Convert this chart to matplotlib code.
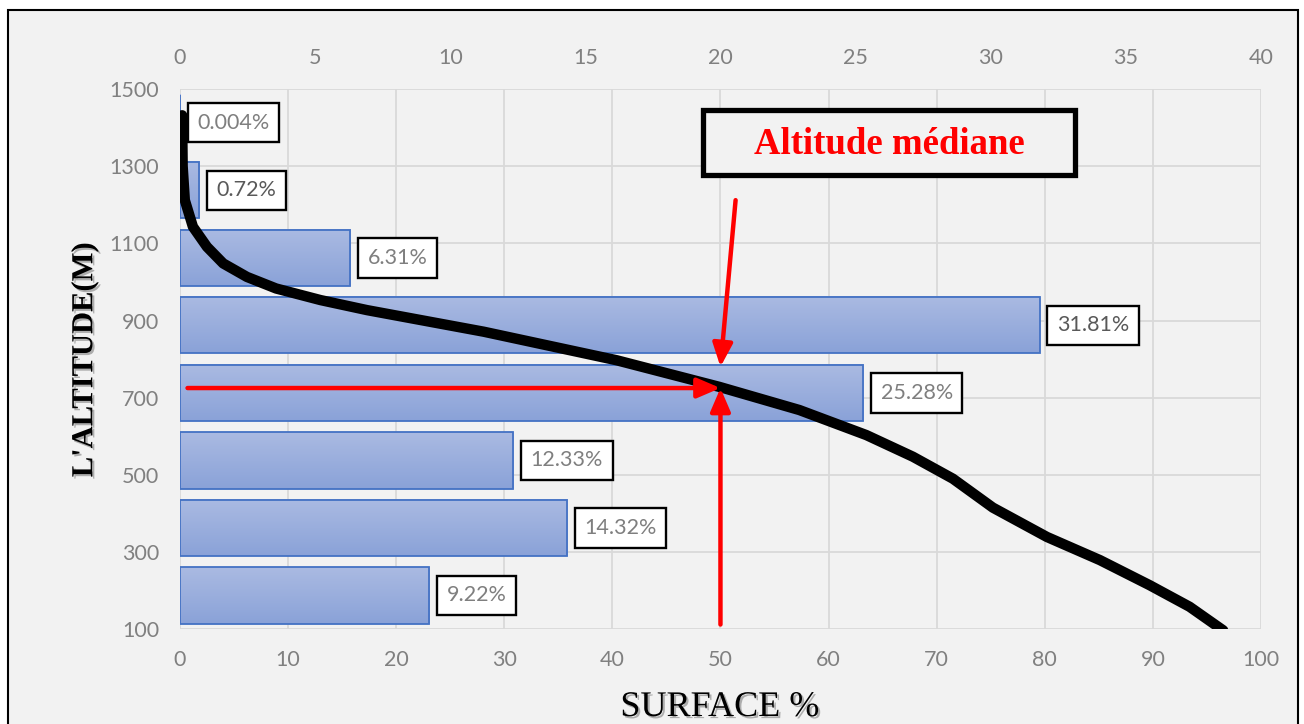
import numpy as np
import matplotlib.pyplot as plt
from matplotlib import patheffects
from matplotlib.colors import LinearSegmentedColormap
from matplotlib.patches import Rectangle

# surface share of each altitude band, lowest band first (%)
BAND_PCT = [9.22, 14.32, 12.33, 25.28, 31.81, 6.31, 0.72, 0.004]
BAND_LABEL_COLORS = ["#7f7f7f", "#7f7f7f", "#7f7f7f", "#7f7f7f",
                     "#595959", "#7f7f7f", "#595959", "#7f7f7f"]

# hypsometric curve: cumulative surface (%) vs altitude (m)
CURVE_SURFACE = [0.2, 0.25, 0.45, 1.2, 2.5, 4.0, 6.2, 8.9, 13.0, 17.3, 28.1,
                 40.4, 49.9, 57.3, 63.5, 67.8, 71.5, 75.2, 80.2, 85.1, 89.7,
                 93.4, 96.5]
CURVE_ALT = [1432, 1300, 1212, 1143, 1091, 1048, 1013, 983, 953, 927, 871,
             797, 728, 668, 603, 547, 490, 415, 339, 279, 214, 158, 97]

MEDIAN_SURFACE = 50
MEDIAN_ALT = 725

ALT_MIN, ALT_MAX = 100, 1500
ALT_TICKS = list(range(100, 1501, 200))
SURFACE_TICKS = list(range(0, 101, 10))
PCT_TICKS = list(range(0, 41, 5))

BG = "#f2f2f2"
GRID = "#d9d9d9"
TICK_COLOR = "#808080"
LABEL_FONT = "Lato"
SERIF = "Liberation Serif"
TICK_SIZE = 15.5

fig = plt.figure(figsize=(13.04, 7.24), dpi=100)
fig.patch.set_facecolor("white")
fig.patches.append(Rectangle((8 / 1304, -0.02), 1290 / 1304, 1.02 - 10 / 724,
                             transform=fig.transFigure, fc=BG, ec="black",
                             lw=1.5, zorder=-10))

# base axes: grid, bottom surface scale and altitude scale
ax = fig.add_axes([0.138, 0.131, 0.829, 0.746])
ax.set_facecolor(BG)
ax.set_xlim(0, 100)
ax.set_ylim(ALT_MIN, ALT_MAX)
ax.set_xticks(SURFACE_TICKS)
ax.set_yticks(ALT_TICKS)
ax.grid(True, color=GRID, lw=1.3)
ax.set_axisbelow(True)
for s in ax.spines.values():
    s.set_visible(False)
ax.tick_params(length=0, labelsize=TICK_SIZE, labelcolor=TICK_COLOR, pad=15)
for lab in ax.get_xticklabels() + ax.get_yticklabels():
    lab.set_fontfamily(LABEL_FONT)

# bars on the top 0-40 % scale
ax_b = ax.twiny()
for s in ax_b.spines.values():
    s.set_visible(False)

n = len(BAND_PCT)
slot = (ALT_MAX - ALT_MIN) / n
centers = ALT_MIN + slot * (np.arange(n) + 0.5)
bar_h = slot / 1.2

grad_cmap = LinearSegmentedColormap.from_list("barfill", ["#8aa2d8", "#aabae2"])
grad = np.linspace(0, 1, 64).reshape(-1, 1)
for v, c in zip(BAND_PCT, centers):
    ax_b.imshow(grad, cmap=grad_cmap, origin="lower", aspect="auto",
                extent=[0, v, c - bar_h / 2, c + bar_h / 2], zorder=1)
ax_b.barh(centers, BAND_PCT, height=bar_h, fc="none", ec="#4472c4",
          lw=1.3, zorder=2)

for v, c, col in zip(BAND_PCT, centers, BAND_LABEL_COLORS):
    ax_b.annotate(f"{v:g}%", xy=(v, c), xytext=(12.5, 0),
                  textcoords="offset points", ha="left", va="center",
                  fontsize=15.5, family=LABEL_FONT, color=col, zorder=3,
                  bbox=dict(boxstyle="square,pad=0.45", fc="white",
                            ec="black", lw=1.7))

ax_b.set_xlim(0, 40)
ax_b.set_ylim(ALT_MIN, ALT_MAX)
ax_b.set_xticks(PCT_TICKS)
ax_b.tick_params(length=0, labelsize=TICK_SIZE, labelcolor=TICK_COLOR, pad=15)
for lab in ax_b.get_xticklabels():
    lab.set_fontfamily(LABEL_FONT)

# hypsometric curve and median markers on the 0-100 % scale
ax_l = ax.twiny()
ax_l.set_xlim(0, 100)
ax_l.set_ylim(ALT_MIN, ALT_MAX)
ax_l.axis("off")
ax_l.plot(CURVE_SURFACE, CURVE_ALT, color="black", lw=7.5,
          solid_joinstyle="round", solid_capstyle="round")

arrow = dict(arrowstyle="-|>,head_length=0.7,head_width=0.3", color="red",
             lw=3.2, shrinkA=0, shrinkB=0, mutation_scale=20)
ax_l.annotate("", xy=(MEDIAN_SURFACE, MEDIAN_ALT), xytext=(0.7, MEDIAN_ALT),
              arrowprops=arrow)
ax_l.annotate("", xy=(MEDIAN_SURFACE, MEDIAN_ALT), xytext=(MEDIAN_SURFACE, 112),
              arrowprops=arrow)
ax_l.annotate("", xy=(MEDIAN_SURFACE, 780), xytext=(51.4, 1212),
              arrowprops=arrow)

# title box for the median
ax_l.add_patch(Rectangle((0.484, 0.841), 0.344, 0.12, transform=ax_l.transAxes,
                         fc=BG, ec="black", lw=3.8, zorder=5, clip_on=False))
ax_l.text(0.656, 0.898, "Altitude médiane", transform=ax_l.transAxes,
          ha="center", va="center", fontsize=26.5, fontweight="bold",
          family=SERIF, color="red", zorder=6)

shadow = [patheffects.withSimplePatchShadow(offset=(1.5, -1.5),
                                            shadow_rgbFace="#808080",
                                            alpha=0.6)]
fig.text(0.065, 0.503, "L'ALTITUDE(M)", rotation=90, ha="center",
         va="center", fontsize=22, fontweight="bold", family=SERIF,
         color="black", path_effects=shadow)
fig.text(0.552, 0.011, "SURFACE %", ha="center", va="baseline",
         fontsize=26, family=SERIF, color="black", path_effects=shadow)

fig.savefig("out.png", dpi=100, facecolor=fig.get_facecolor())
